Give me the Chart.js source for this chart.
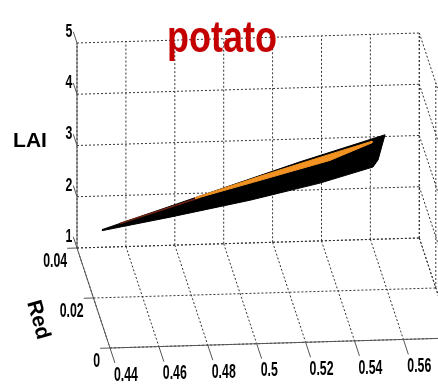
<!DOCTYPE html>
<html>
<head>
<meta charset="utf-8">
<script src="https://cdn.jsdelivr.net/npm/chart.js@4.4.1/dist/chart.umd.min.js"></script>
<style>
  html, body { margin: 0; padding: 0; background: #fff; }
  #wrap { width: 438px; height: 389px; }
</style>
</head>
<body>
<div id="wrap"><canvas id="chart" width="438" height="389"></canvas></div>
<script>
// Axis ticks
const nirTicks = [0.44, 0.46, 0.48, 0.5, 0.52, 0.54, 0.56];
const nirLimits = [0.44, 0.58];
const redTicks = [0, 0.02, 0.04];
const laiTicks = [1, 2, 3, 4, 5];

// Surface outline (NIR, Red, LAI): far edge, blunt end, near edge
const farNir = [0.4485, 0.4886, 0.5295, 0.5643];
const farRed = [0.035, 0.035, 0.035, 0.035];
const farLai = [1.59, 2.19, 2.80, 3.28];
const endNir = [0.5557];
const endRed = [0.018];
const endLai = [3.63];
const nearNir = [0.5516, 0.5313, 0.5047, 0.4740, 0.4485];
const nearRed = [0.012, 0.016, 0.022, 0.028, 0.035];
const nearLai = [3.79, 3.31, 2.72, 2.14, 1.57];

// Coloured band on the surface, just under the far edge
const bandNir = [0.4859, 0.5125, 0.5411, 0.5583, 0.5583, 0.5411, 0.5125, 0.4859];
const bandRed = [0.033, 0.033, 0.033, 0.033, 0.033, 0.033, 0.033, 0.033];
const bandLai = [2.26, 2.64, 3.03, 3.26, 3.23, 2.91, 2.56, 2.24];

// Darker rim toward the tip
const rimNir = [0.4552, 0.4879];
const rimRed = [0.033, 0.033];
const rimLai = [1.80, 2.26];

// View: oblique projection of the 3D box onto the canvas plane
const view = {
  ox: 77, oy: 248,          // corner NIR=0.44, Red=0.04, LAI=1
  nirStep: 0.02, nirDx: 48.9, nirDy: -1.43,
  redSpan: 0.04, redDx: 33, redDy: 100,
  laiDy: -51.25
};

function proj(nir, red, lai) {
  const u = (nir - nirLimits[0]) / view.nirStep;
  const v = (redTicks[redTicks.length - 1] - red) / view.redSpan;
  const w = lai - laiTicks[0];
  return {
    x: view.ox + u * view.nirDx + v * view.redDx,
    y: view.oy + u * view.nirDy + v * view.redDy + w * view.laiDy
  };
}

const GAP = { x: null, y: null };
const redMin = redTicks[0], redMax = redTicks[redTicks.length - 1];
const laiMin = laiTicks[0], laiMax = laiTicks[laiTicks.length - 1];
const nirWall = nirTicks.concat([nirLimits[1]]);

// Grid lines on the three back planes
const grid = [];
function seg(a, b) { grid.push(a, b, GAP); }
nirWall.forEach(n => {
  seg(proj(n, redMax, laiMin), proj(n, redMax, laiMax));   // back wall
  seg(proj(n, redMax, laiMin), proj(n, redMin, laiMin));   // floor
});
laiTicks.forEach(z => {
  seg(proj(nirLimits[0], redMax, z), proj(nirLimits[1], redMax, z));
  seg(proj(nirLimits[1], redMax, z), proj(nirLimits[1], redMin, z)); // side wall
});
redTicks.forEach(r => {
  seg(proj(nirLimits[0], r, laiMin), proj(nirLimits[1], r, laiMin));
  seg(proj(nirLimits[1], r, laiMin), proj(nirLimits[1], r, laiMax));
});

// Solid axis lines and tick marks
const axes = [];
function aseg(a, b) { axes.push(a, b, GAP); }
aseg(proj(nirLimits[0], redMax, laiMin), proj(nirLimits[0], redMax, laiMax));
aseg(proj(nirLimits[0], redMax, laiMin), proj(nirLimits[0], redMin, laiMin));
aseg(proj(nirLimits[0], redMin, laiMin), proj(nirLimits[1], redMin, laiMin));

const nirTickEnd = nirTicks.map(n => proj(n, redMin - 0.006, laiMin));
const redTickEnd = redTicks.map(r => proj(nirLimits[0] - 0.004, r, laiMin));
const laiTickEnd = laiTicks.map(z => proj(nirLimits[0], redMax + 0.0045, z));
nirTicks.forEach((n, i) => aseg(proj(n, redMin, laiMin), nirTickEnd[i]));
redTicks.forEach((r, i) => aseg(proj(nirLimits[0], r, laiMin), redTickEnd[i]));
laiTicks.forEach((z, i) => aseg(proj(nirLimits[0], redMax, z), laiTickEnd[i]));

// Surface polygon
const surface = [];
farNir.forEach((n, i) => surface.push(proj(n, farRed[i], farLai[i])));
endNir.forEach((n, i) => surface.push(proj(n, endRed[i], endLai[i])));
nearNir.forEach((n, i) => surface.push(proj(n, nearRed[i], nearLai[i])));

const band = bandNir.map((n, i) => proj(n, bandRed[i], bandLai[i]));
const rim = rimNir.map((n, i) => proj(n, rimRed[i], rimLai[i]));

function drawText(ctx, text, x, y, o) {
  ctx.save();
  ctx.translate(x, y);
  ctx.rotate(o.rotate || 0);
  ctx.scale(o.sx || 1, o.sy || 1);
  ctx.font = o.font;
  ctx.fillStyle = o.color || '#000';
  ctx.textAlign = o.align || 'center';
  ctx.textBaseline = o.baseline || 'middle';
  ctx.fillText(text, 0, 0);
  ctx.restore();
}

const tickFont = 'bold 16px "Liberation Sans", Arial, sans-serif';

const labelsPlugin = {
  id: 'labels3d',
  afterDatasetsDraw(chart) {
    const ctx = chart.ctx;
    const X = chart.scales.x, Y = chart.scales.y;
    const px = p => [X.getPixelForValue(p.x), Y.getPixelForValue(p.y)];

    nirTicks.forEach((n, i) => {
      const [x, y] = px(nirTickEnd[i]);
      drawText(ctx, String(n), x - 1, y + 12, { font: tickFont, sx: 0.77, sy: 1.3, align: 'left' });
    });
    redTicks.forEach((r, i) => {
      const [x, y] = px(redTickEnd[i]);
      drawText(ctx, String(r), x, y + 13, { font: tickFont, sx: 0.77, sy: 1.25, align: 'right' });
    });
    laiTicks.forEach((z, i) => {
      const [x, y] = px(laiTickEnd[i]);
      drawText(ctx, String(z), x - 1, y, { font: tickFont, sx: 0.77, sy: 1.15, align: 'right' });
    });

    drawText(ctx, 'LAI', 30, 141, { font: 'bold 21px "Liberation Sans", Arial, sans-serif' });
    drawText(ctx, 'Red', 38, 320, { font: 'bold 21px "Liberation Sans", Arial, sans-serif', rotate: 74 * Math.PI / 180 });
    drawText(ctx, 'potato', 222, 52, {
      font: 'bold 36px "Liberation Sans", Arial, sans-serif', sy: 1.25,
      color: '#c40000', baseline: 'alphabetic'
    });
  }
};

new Chart(document.getElementById('chart'), {
  type: 'scatter',
  data: {
    datasets: [
      {
        data: band, showLine: true, pointRadius: 0, borderWidth: 1,
        borderColor: '#f29222', backgroundColor: '#f29222', fill: 'shape', order: 0
      },
      {
        data: rim, showLine: true, pointRadius: 0, borderWidth: 1.5,
        borderColor: '#6e2214', order: 1
      },
      {
        data: surface, showLine: true, pointRadius: 0, borderWidth: 1,
        borderColor: '#000', backgroundColor: '#000', fill: 'shape', order: 2
      },
      {
        data: axes, showLine: true, pointRadius: 0, borderWidth: 1,
        borderColor: '#555', spanGaps: false, order: 3
      },
      {
        data: grid, showLine: true, pointRadius: 0, borderWidth: 1,
        borderColor: '#333', borderDash: [2, 2], spanGaps: false, order: 4
      }
    ]
  },
  options: {
    responsive: false,
    animation: false,
    devicePixelRatio: 1,
    layout: { padding: 0 },
    plugins: { legend: { display: false }, tooltip: { enabled: false } },
    scales: {
      x: { type: 'linear', min: 0, max: 438, display: false },
      y: { type: 'linear', min: 0, max: 389, reverse: true, display: false }
    }
  },
  plugins: [labelsPlugin]
});
</script>
</body>
</html>
